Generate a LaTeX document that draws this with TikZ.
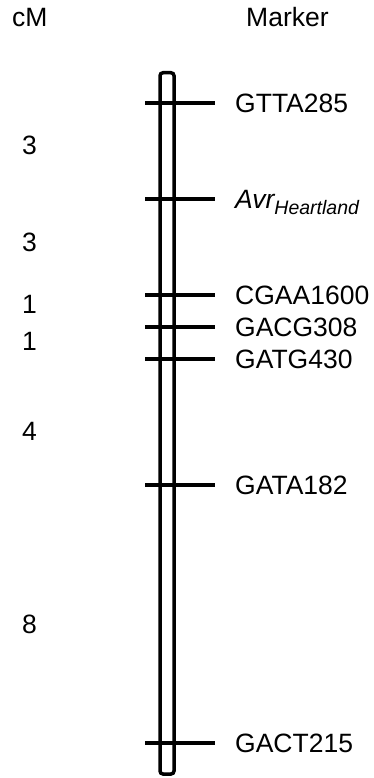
\documentclass[tikz,border=0pt]{standalone}
\usepackage{fontspec}
\setmainfont{Liberation Sans}
\begin{document}
\begin{tikzpicture}[x=1pt,y=-1pt,
  lbl/.style={font=\fontsize{26.5}{29}\selectfont, inner sep=0pt, anchor=base west},
  tick/.style={line width=3.5pt},
  chrom/.style={line width=3.5pt, rounded corners=3pt}]
\useasboundingbox (0,0) rectangle (374,778);
% headings
\node[lbl] (hcm) at (12,27) {cM};
\node[lbl] (hmk) at (246,27) {Marker};
% chromosome
\draw[chrom] (160,72.75) rectangle (174,774);
% marker ticks
\foreach \n/\y in {a/103, b/199, c/295, d/327, e/359, f/485, g/743}{
  \coordinate (l\n) at (145,\y);
  \coordinate (r\n) at (215,\y);
  \draw[tick] (l\n) -- (r\n);
}
% marker labels
\node[lbl] (ma) at (235,112.5) {GTTA285};
\node[lbl] (mb) at (235,208) {\itshape Avr\raisebox{-6pt}{\fontsize{19.5}{20}\selectfont\itshape Heartland}};
\node[lbl] (mc) at (235,304.5) {CGAA1600};
\node[lbl] (md) at (235,336.5) {GACG308};
\node[lbl] (me) at (235,368.5) {GATG430};
\node[lbl] (mf) at (235,494.5) {GATA182};
\node[lbl] (mg) at (235,752.5) {GACT215};
% distances
\node[lbl] (d1) at (22,155) {3};
\node[lbl] (d2) at (22,251) {3};
\node[lbl] (d3) at (22,313) {1};
\node[lbl] (d4) at (22,350) {1};
\node[lbl] (d5) at (22,440) {4};
\node[lbl] (d6) at (22,633) {8};
\end{tikzpicture}
\end{document}
